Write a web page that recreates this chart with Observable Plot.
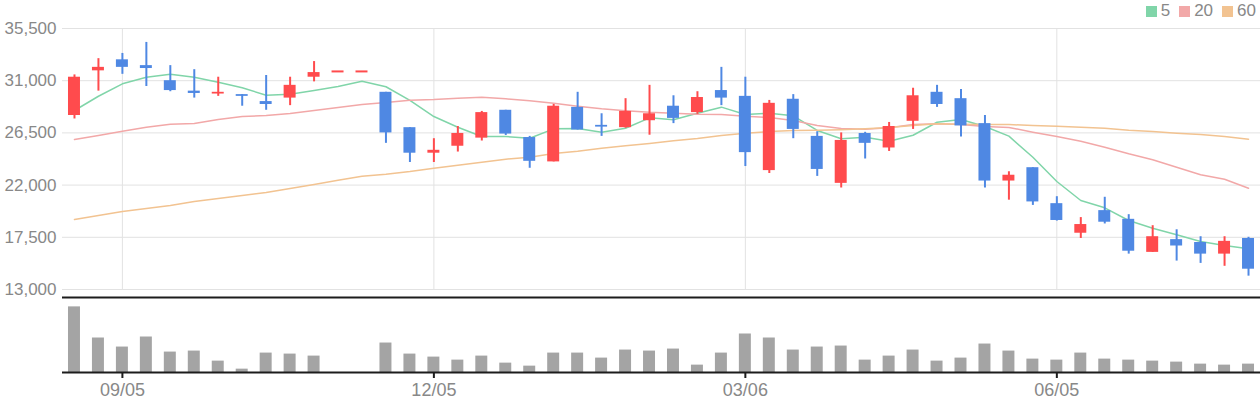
<!DOCTYPE html>
<html>
<head>
<meta charset="utf-8">
<script src="https://cdn.jsdelivr.net/npm/d3@7"></script>
<script src="https://cdn.jsdelivr.net/npm/@observablehq/plot@0.6"></script>
<style>
  html, body { margin: 0; padding: 0; background: #fff; }
  #wrap { position: relative; width: 1260px; height: 400px; overflow: hidden; font-family: 'Liberation Sans', Arial, sans-serif; }
  #wrap svg { display: block; }
  #legend { position: absolute; top: 2px; right: 4px; display: flex; align-items: center; font-size: 17px; line-height: 17px; color: #888; }
  #legend .sw { display: inline-block; width: 11px; height: 11px; margin-right: 4px; position: relative; top: 1px; }
  #legend .it { display: flex; align-items: center; margin-left: 9px; }
</style>
</head>
<body>
<div id="wrap"><div id="legend"></div></div>
<script>
// ---- data (weekly candles) ----
const dates = ["08/22","08/29","09/05","09/12","09/19","09/26","10/03","10/10","10/17","10/24",
  "10/31","11/07","11/14","11/21","11/28","12/05","12/12","12/19","12/26","01/02",
  "01/09","01/16","01/23","01/30","02/06","02/13","02/20","02/27","03/06","03/13",
  "03/20","03/27","04/03","04/10","04/17","04/24","05/01","05/08","05/15","05/22",
  "05/29","06/05","06/12","06/19","06/26","07/03","07/10","07/17","07/24","07/31"];
const opens = [28000,31850,32800,32300,31000,30100,29850,29800,29200,29500,
  31300,31800,31800,30000,26950,24750,25350,26050,28450,26100,
  24000,28700,27150,26950,27550,28800,28250,30150,29650,23250,
  29400,26200,22150,26450,25200,27500,30000,29450,27300,22350,
  23500,20400,17850,19800,19050,16200,17300,17050,16050,17400];
const highs = [31500,32900,33350,34300,32300,31950,31300,29800,31450,31300,
  32650,31800,31800,30000,26950,26000,27050,28350,28450,26200,
  28950,30000,28150,29450,30600,29700,30050,32150,31300,29300,
  29800,26600,26500,26550,27400,30350,30600,30250,28000,23150,
  23500,21000,19200,20950,19450,18500,18150,17550,17550,17500];
const lows = [27700,30100,31550,30500,30050,29500,29650,28800,28450,28850,
  30900,31800,31800,25600,23950,23950,24850,25800,26280,23450,
  24000,26750,26200,26900,26300,27300,28100,28850,23600,23000,
  26000,22750,21750,24250,24900,26800,28700,26150,21750,20700,
  20250,18900,17400,18650,16050,16200,15450,15250,15000,14150];
const closes = [31300,32150,32150,32050,30150,29900,30000,29650,28950,30600,
  31700,31800,31800,26500,24750,25000,26450,28250,26400,24050,
  28800,26750,27000,28350,28150,27750,29550,29500,24800,29050,
  26800,23350,25850,25600,27050,29700,28950,27100,22350,22850,
  20550,18950,18600,18800,16300,17550,16750,16050,17150,14750];
const volumes = [1960,1030,760,1060,610,640,340,100,580,550,
  490,0,0,880,550,460,370,490,280,190,
  580,580,430,670,640,700,220,580,1150,1030,
  670,760,790,370,490,670,340,430,850,640,
  400,370,580,400,370,340,310,250,220,250];
const ma5 = [28430,29660,30730,31300,31560,31300,30870,30390,29750,29840,
  30150,30500,30960,30480,29310,27910,26990,26190,26190,26040,
  26850,26880,26560,26900,27800,27630,28200,28720,28090,28200,
  27970,26710,25990,26130,25780,26300,27420,27660,27050,26220,
  24400,22310,20670,20040,18950,18280,17720,17140,16790,16510];
const ma20 = [25930,26280,26650,26990,27250,27310,27660,27910,28000,28170,
  28430,28690,28950,29120,29320,29380,29490,29580,29440,29270,
  29060,28800,28580,28410,28280,28200,28110,28090,27940,27830,
  27570,27140,26880,26820,26940,27220,27280,27220,27050,26970,
  26560,26190,25780,25270,24700,24180,23540,22890,22510,21730];
const ma60 = [19030,19380,19720,19980,20240,20590,20850,21100,21360,21710,
  22050,22420,22770,22940,23170,23460,23720,23970,24230,24410,
  24720,24920,25180,25390,25590,25820,26020,26280,26470,26620,
  26710,26730,26770,26850,26970,27140,27280,27250,27220,27220,
  27140,27080,26990,26910,26730,26620,26470,26360,26190,25960];
const maLabels = ["5", "20", "60"];
const maColors = ["#80d5a9", "#f2a8a8", "#f2c391"];
const yTicks = [13000, 17500, 22000, 26500, 31000, 35500];
const xTicks = ["09/05", "12/05", "03/06", "06/05"];

// ---- tables ----
const candles = dates.map((d, i) => ({date: d, open: opens[i], high: highs[i], low: lows[i], close: closes[i], vol: volumes[i]}));
const maRows = [];
[ma5, ma20, ma60].forEach((arr, k) => arr.forEach((v, i) => maRows.push({date: dates[i], v, s: maLabels[k]})));

const UP = "#ff4b4d", DOWN = "#4f88e3";
const col = d => d.close >= d.open ? UP : DOWN;
const xScale = {type: "band", domain: dates, paddingInner: 0.5, paddingOuter: 0.25, align: 0.5, axis: null};
const font = "'Liberation Sans', Arial, sans-serif";

const price = Plot.plot({
  width: 1260, height: 296,
  marginTop: 28, marginBottom: 7, marginLeft: 62, marginRight: 0,
  style: {fontFamily: font, fontSize: "17px", color: "#888", background: "white", overflow: "visible"},
  x: xScale,
  y: {domain: [13000, 35500], axis: null},
  color: {domain: maLabels, range: maColors},
  marks: [
    Plot.gridY(yTicks, {stroke: "#e2e2e2", strokeOpacity: 1}),
    Plot.gridX(xTicks, {stroke: "#e2e2e2", strokeOpacity: 1}),
    Plot.axisY(yTicks, {tickSize: 0, tickPadding: 6, tickFormat: d3.format(","), fontSize: 17, fill: "#888", label: null}),
    Plot.lineY(maRows, {x: "date", y: "v", z: "s", stroke: "s", strokeWidth: 1.5}),
    Plot.ruleX(candles, {x: "date", y1: "low", y2: "high", stroke: col, strokeWidth: 2}),
    Plot.barY(candles, {x: "date", y1: "open", y2: "close", fill: col}),
    Plot.tickY(candles.filter(d => d.open === d.close), {x: "date", y: "close", stroke: col, strokeWidth: 2})
  ]
});

const volume = Plot.plot({
  width: 1260, height: 104,
  marginTop: 1, marginBottom: 28, marginLeft: 62, marginRight: 0,
  style: {fontFamily: font, fontSize: "18px", color: "#888", background: "white", overflow: "visible"},
  x: xScale,
  y: {domain: [0, 2240], axis: null},
  marks: [
    Plot.barY(candles, {x: "date", y: "vol", fill: "#a4a4a4"}),
    Plot.ruleY([0, 2240], {stroke: "#1c1c1c", strokeWidth: 2}),
    Plot.axisX(xTicks, {tickSize: 6, tickPadding: 5, stroke: "#1c1c1c", strokeWidth: 2, fill: "#888", fontSize: 18, label: null})
  ]
});

const wrap = document.getElementById("wrap");
wrap.appendChild(price);
wrap.appendChild(volume);

const legend = document.getElementById("legend");
maLabels.forEach((lab, k) => {
  const it = document.createElement("span");
  it.className = "it";
  const sw = document.createElement("span");
  sw.className = "sw";
  sw.style.background = maColors[k];
  it.appendChild(sw);
  it.appendChild(document.createTextNode(lab));
  legend.appendChild(it);
});
</script>
</body>
</html>
